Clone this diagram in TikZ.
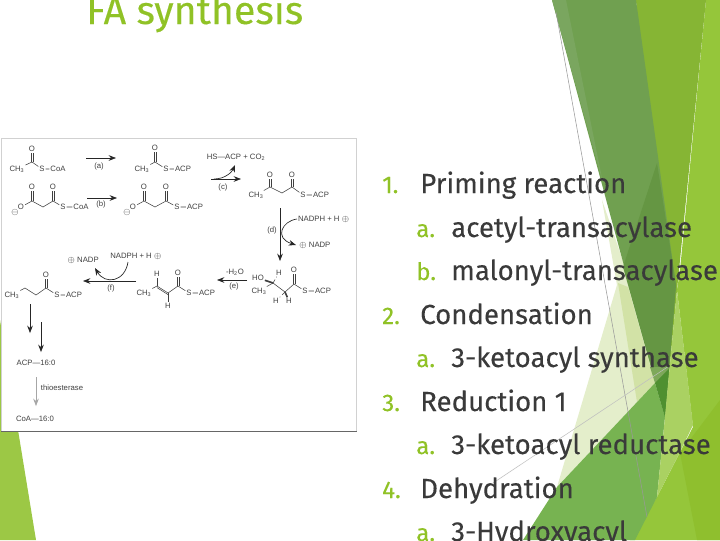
\documentclass[tikz,border=0pt]{standalone}
\usepackage{fontspec}
\setmainfont{Liberation Sans}
\newfontfamily\slidefont[FakeBold=0.2]{Fira Sans}
\usetikzlibrary{arrows.meta}
\definecolor{facetlime}{HTML}{90C226}
\definecolor{slidetext}{HTML}{3A3A3A}
\tikzset{
  atom/.style={font=\fontsize{5.8}{6}\selectfont, text=black!75, inner sep=0.6pt},
  bond/.style={draw=black!75, line width=0.4pt},
  rxn/.style={draw=black!85, line width=0.5pt, -{Stealth[length=5.5pt,width=4.2pt]}},
  num/.style={anchor=base west, inner sep=0pt, font=\slidefont\fontsize{18}{22}\selectfont, text=facetlime},
  entry/.style={anchor=base west, inner sep=0pt, font=\slidefont\fontsize{20.7}{24}\selectfont, text=slidetext}
}
% upright C=O pair
\newcommand{\carbonyl}[2]{
  \draw[bond] ([xshift=-0.6pt]#1) -- ([xshift=-0.6pt]#2.south);
  \draw[bond] ([xshift=0.6pt]#1) -- ([xshift=0.6pt]#2.south);
}
\begin{document}
\begin{tikzpicture}[x=0.75pt,y=-0.75pt]
\useasboundingbox (0,0) rectangle (720,540);
\clip (0,0) rectangle (720,540);
\fill[white] (0,0) rectangle (720,540);

% facets
\fill[fill={rgb,255:red,149;green,198;blue,58}] (680,270) -- (706,0) -- (720,0) -- (720,540) -- (630,540) -- (657,497) -- (693,427) -- (677,290) -- cycle;
\fill[fill={rgb,255:red,143;green,191;blue,46}] (720,400) -- (680,453) -- (697,540) -- (720,540) -- cycle;
\fill[fill={rgb,255:red,134;green,181;blue,52}] (636,0) -- (706,0) -- (677,290) -- (665,417) -- cycle;
\fill[fill={rgb,255:red,228;green,238;blue,203}] (602,200) -- (632,287) -- (655,383) -- (557,487) -- (617,285) -- cycle;
\fill[fill={rgb,255:red,210;green,226;blue,166}] (618,283) -- (628,287) -- (655,383) -- (637,402) -- cycle;
\fill[fill={rgb,255:red,112;green,160;blue,80}] (552,0) -- (636,0) -- (676,285) -- (665,417) -- cycle;
\fill[fill={rgb,255:red,122;green,166;blue,95}] (552,0) -- (566,0) -- (603,183) -- cycle;
\fill[fill={rgb,255:red,101;green,150;blue,67}] (657,163) -- (676,285) -- (665,417) -- (623,267) -- cycle;
\fill[fill={rgb,255:red,126;green,168;blue,90}] (650,367) -- (670,367) -- (655,383) -- cycle;
\fill[fill={rgb,255:red,119;green,179;blue,81}] (655,383) -- (665,417) -- (657,497) -- (635,540) -- (523,540) -- (557,487) -- cycle;
\fill[fill={rgb,255:red,79;green,144;blue,48}] (655,383) -- (669,369) -- (665,417) -- cycle;
\fill[fill={rgb,255:red,170;green,209;blue,98}] (677,290) -- (693,425) -- (677,458) -- (657,497) -- (665,417) -- cycle;
\fill[fill={rgb,255:red,156;green,200;blue,69}] (0,320) -- (36,540) -- (0,540) -- cycle;

% thin lines
\coordinate (lineA) at (556,12);
\coordinate (lineB) at (647,517);
\coordinate (lineC) at (669,366);
\coordinate (lineD) at (493,483);
\draw[black!40,line width=0.4pt] (lineA) -- (lineB);
\draw[black!25,line width=0.4pt] (lineC) -- (lineD);

% title
\node[anchor=base west,inner sep=0pt,font=\slidefont\fontsize{29.5}{36}\selectfont,text=facetlime] (title) at (86,24) {FA synthesis};

% panel
\node[draw=black!18,fill=white,line width=0.8pt,minimum width=266pt,minimum height=219.5pt,inner sep=0pt,anchor=north west] (panel) at (1,138) {};
\draw[black!60,line width=0.7pt] (panel.south west) -- (panel.south east);

% acetyl-CoA
\node[atom] (acCh) at (17,169) {CH\textsubscript{3}};
\coordinate (acC) at (32,162);
\node[atom] (acO) at (32,149) {O};
\node[atom] (acS) at (42,169) {S};
\node[atom] (acR) at (58,169) {CoA};
\draw[bond] (acCh) -- (acC) -- (acS) -- (acR);
\carbonyl{acC}{acO}

% acetyl-ACP
\node[atom] (aaCh) at (142,169) {CH\textsubscript{3}};
\coordinate (aaC) at (155,162);
\node[atom] (aaO) at (155,148) {O};
\node[atom] (aaS) at (166,169) {S};
\node[atom] (aaR) at (183,169) {ACP};
\draw[bond] (aaCh) -- (aaC) -- (aaS) -- (aaR);
\carbonyl{aaC}{aaO}

% malonyl-CoA
\node[atom] (mcN) at (15,212) {$\ominus$};
\node[atom] (mcOa) at (21,207) {O};
\coordinate (mcCa) at (32,201);
\node[atom] (mcOb) at (32,187) {O};
\coordinate (mcCb) at (43,207);
\coordinate (mcCc) at (53,201);
\node[atom] (mcOc) at (53,187) {O};
\node[atom] (mcS) at (63,207) {S};
\node[atom] (mcR) at (81,207) {CoA};
\draw[bond] (mcOa) -- (mcCa) -- (mcCb) -- (mcCc) -- (mcS) -- (mcR);
\carbonyl{mcCa}{mcOb}
\carbonyl{mcCc}{mcOc}

% malonyl-ACP
\node[atom] (maN) at (127,212) {$\ominus$};
\node[atom] (maOa) at (133,207) {O};
\coordinate (maCa) at (144,201);
\node[atom] (maOb) at (144,187) {O};
\coordinate (maCb) at (155,207);
\coordinate (maCc) at (166,201);
\node[atom] (maOc) at (166,187) {O};
\node[atom] (maS) at (177,207) {S};
\node[atom] (maR) at (195,207) {ACP};
\draw[bond] (maOa) -- (maCa) -- (maCb) -- (maCc) -- (maS) -- (maR);
\carbonyl{maCa}{maOb}
\carbonyl{maCc}{maOc}

% ketoacyl
\node[atom] (kaCh) at (256,195) {CH\textsubscript{3}};
\coordinate (kaCa) at (270,187);
\node[atom] (kaOa) at (270,175) {O};
\coordinate (kaCb) at (282,193);
\coordinate (kaCc) at (292,187);
\node[atom] (kaOb) at (292,175) {O};
\node[atom] (kaS) at (303,195) {S};
\node[atom] (kaR) at (321,195) {ACP};
\draw[bond] (kaCh) -- (kaCa) -- (kaCb) -- (kaCc) -- (kaS) -- (kaR);
\carbonyl{kaCa}{kaOa}
\carbonyl{kaCc}{kaOb}

% hydroxyacyl
\node[atom] (hyHo) at (258,278) {HO};
\node[atom] (hyHa) at (279,273) {H};
\node[atom] (hyCh) at (259,291) {CH\textsubscript{3}};
\coordinate (hyCa) at (273,283);
\coordinate (hyCb) at (285,292);
\coordinate (hyCc) at (294,284);
\node[atom] (hyO) at (294,270) {O};
\node[atom] (hyS) at (305,291) {S};
\node[atom] (hyR) at (323,291) {ACP};
\node[atom] (hyHb) at (276,301) {H};
\node[atom] (hyHc) at (289,301) {H};
\draw[bond] (hyCh) -- (hyCa) -- (hyCb) -- (hyCc) -- (hyS) -- (hyR);
\carbonyl{hyCc}{hyO}
\draw[bond,line width=1.2pt] (hyCa) -- (hyHo);
\draw[bond,densely dashed] (hyCa) -- (hyHa);
\draw[bond,densely dashed] (hyCb) -- (hyHb);
\draw[bond,line width=1.2pt] (hyCb) -- (hyHc);

% enoyl
\node[atom] (enCh) at (144,293) {CH\textsubscript{3}};
\coordinate (enCa) at (157,286);
\node[atom] (enHa) at (157,274) {H};
\coordinate (enCb) at (168,293);
\node[atom] (enHb) at (168,306) {H};
\coordinate (enCc) at (178,286);
\node[atom] (enO) at (178,273) {O};
\node[atom] (enS) at (189,293) {S};
\node[atom] (enR) at (207,293) {ACP};
\draw[bond] (enCh) -- (enCa);
\draw[bond] (enCa) -- (enHa.south);
\draw[bond] (enCa) -- (enCb);
\draw[bond] ([yshift=-1.2pt]enCa) -- ([yshift=-1.2pt]enCb);
\draw[bond] (enCb) -- (enHb.north);
\draw[bond] (enCb) -- (enCc) -- (enS) -- (enR);
\carbonyl{enCc}{enO}

% butyryl
\node[atom] (buCh) at (12,295) {CH\textsubscript{3}};
\coordinate (buCa) at (25,288);
\coordinate (buCb) at (36,295);
\coordinate (buCc) at (46,288);
\node[atom] (buO) at (46,275) {O};
\node[atom] (buS) at (57,295) {S};
\node[atom] (buR) at (74,295) {ACP};
\draw[bond] (buCh) -- (buCa) -- (buCb) -- (buCc) -- (buS) -- (buR);
\carbonyl{buCc}{buO}

% labels
\node[atom] (labA) at (99,166) {(a)};
\node[atom] (labB) at (101,204) {(b)};
\node[atom] (labC) at (223,187) {(c)};
\node[atom] (labD) at (272,230) {(d)};
\node[atom] (labE) at (234,286) {(e)};
\node[atom] (labF) at (111,288) {(f)};
\node[atom] (hsAcp) at (236,157) {HS—ACP + CO\textsubscript{2}};
\node[atom,anchor=west] (nadphD) at (297,219) {NADPH + H $\oplus$};
\node[atom,anchor=west] (nadpD) at (298,245) {$\oplus$ NADP};
\node[atom] (water) at (235,272) {-H\textsubscript{2}O};
\node[atom] (nadphF) at (136,256) {NADPH + H $\oplus$};
\node[atom] (nadpF) at (83,260) {$\oplus$ NADP};
\node[atom] (acp160) at (36,363) {ACP—16:0};
\node[atom] (thio) at (62,388) {thioesterase};
\node[atom] (coa160) at (35,419) {CoA—16:0};

% reaction arrows
\coordinate (rxnAs) at (86,158); \coordinate (rxnAe) at (116,158);
\coordinate (rxnBs) at (87,198); \coordinate (rxnBe) at (117,198);
\coordinate (rxnCs) at (211,179); \coordinate (rxnCe) at (241,179);
\coordinate (rxnDs) at (280,208); \coordinate (rxnDe) at (280,261);
\coordinate (rxnEs) at (247,280); \coordinate (rxnEe) at (217,280);
\coordinate (rxnFs) at (136,281); \coordinate (rxnFe) at (83,281);
\coordinate (rxnGs) at (30,304); \coordinate (rxnGe) at (30,333);
\coordinate (rxnHs) at (41,322); \coordinate (rxnHe) at (41,352);
\coordinate (rxnIs) at (36,377); \coordinate (rxnIe) at (36,406);
\draw[rxn] (rxnAs) -- (rxnAe);
\draw[rxn] (rxnBs) -- (rxnBe);
\draw[rxn] (rxnCs) -- (rxnCe);
\draw[rxn] (rxnDs) -- (rxnDe);
\draw[rxn] (rxnEs) -- (rxnEe);
\draw[rxn] (rxnFs) -- (rxnFe);
\draw[rxn] (rxnGs) -- (rxnGe);
\draw[rxn] (rxnHs) -- (rxnHe);
\draw[rxn,draw=black!35] (rxnIs) -- (rxnIe);

% curved side arrows
\coordinate (bendCs) at (214,179);
\coordinate (bendC) at (235,165);
\coordinate (bendDe) at (296,245);
\coordinate (bendFe) at (95,268);
\coordinate (bendFs) at (128,262);
\draw[rxn] (bendCs) .. controls (225,179) and (232,172) .. (bendC);
\draw[rxn] (nadphD.west) .. controls (282,221) and (274,238) .. (bendDe);
\draw[rxn] (bendFs) .. controls (125,282) and (105,285) .. (bendFe);

% list
\node[num] (num1) at (382,193) {1.};
\node[entry] (item1) at (420,193) {Priming reaction};
\node[num] (num1a) at (416,237) {a.};
\node[entry] (item1a) at (451,237) {acetyl-transacylase};
\node[num] (num1b) at (416,280) {b.};
\node[entry] (item1b) at (451,280) {malonyl-transacylase};
\node[num] (num2) at (382,324) {2.};
\node[entry] (item2) at (420,324) {Condensation};
\node[num] (num2a) at (416,367) {a.};
\node[entry] (item2a) at (451,367) {3-ketoacyl synthase};
\node[num] (num3) at (382,411) {3.};
\node[entry] (item3) at (420,411) {Reduction 1};
\node[num] (num3a) at (416,454) {a.};
\node[entry] (item3a) at (451,454) {3-ketoacyl reductase};
\node[num] (num4) at (382,498) {4.};
\node[entry] (item4) at (420,498) {Dehydration};
\node[num] (num4a) at (416,541) {a.};
\node[entry] (item4a) at (451,541) {3-Hydroxyacyl};
\end{tikzpicture}
\end{document}
